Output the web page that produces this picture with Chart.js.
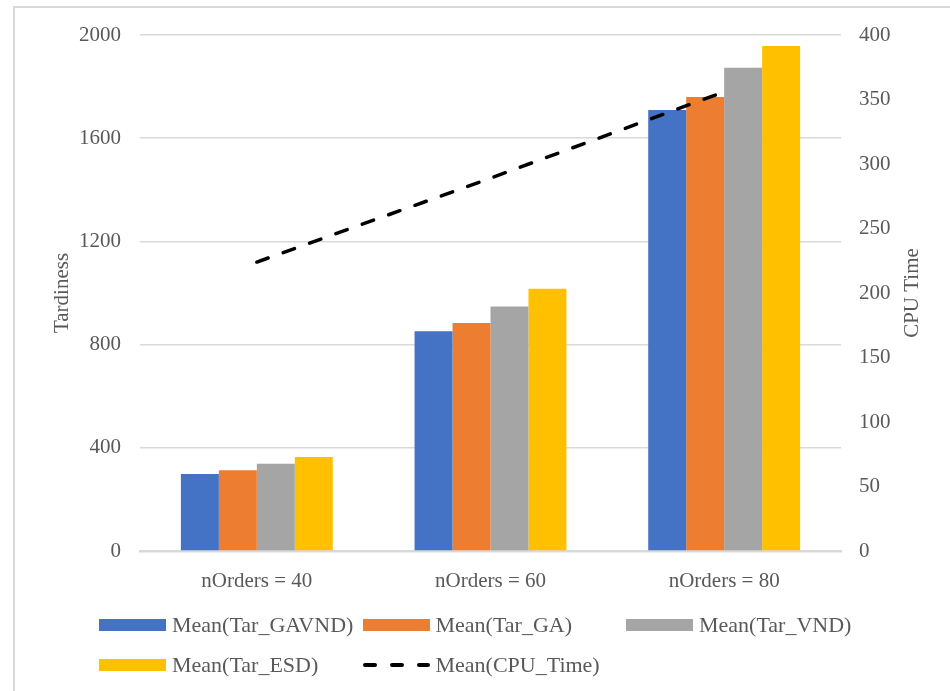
<!DOCTYPE html>
<html>
<head>
<meta charset="utf-8">
<script src="https://cdn.jsdelivr.net/npm/chart.js@4/dist/chart.umd.min.js"></script>
<style>
  body { margin: 0; background: #fff; }
  #wrap { position: relative; width: 950px; height: 691px; overflow: hidden; }
  #frame { position: absolute; left: 13px; top: 6px; width: 1000px; height: 800px;
           border-left: 2px solid #d9d9d9; border-top: 2px solid #d9d9d9; }
  canvas { position: absolute; left: 0; top: 0; }
  .item { position: absolute; height: 30px; display: flex; align-items: center;
          font-family: "Liberation Serif", "Times New Roman", serif; font-size: 22px; color: #595959; white-space: nowrap; }
  .swatch { width: 67px; height: 12px; margin-right: 6px; }
</style>
</head>
<body>
<div id="wrap">
  <div id="frame"></div>
  <canvas id="c" width="950" height="691"></canvas>
  <div id="legend"></div>
</div>
<script>
const categories = ['nOrders = 40', 'nOrders = 60', 'nOrders = 80'];
const tarGAVND = [298, 852, 1709];
const tarGA = [313, 884, 1760];
const tarVND = [338, 948, 1873];
const tarESD = [364, 1016, 1957];
const cpuTime = [224, 289, 356];

const seriesNames = ['Mean(Tar_GAVND)', 'Mean(Tar_GA)', 'Mean(Tar_VND)', 'Mean(Tar_ESD)', 'Mean(CPU_Time)'];
const colors = ['#4472C4', '#ED7D31', '#A5A5A5', '#FFC000', '#000000'];

const textColor = '#595959';
const serif = '"Liberation Serif", "Times New Roman", serif';
const font = { family: serif, size: 21 };

const barSet = (i, data) => ({
  type: 'bar', label: seriesNames[i], data, backgroundColor: colors[i],
  yAxisID: 'y', categoryPercentage: 0.65, barPercentage: 1, order: 1
});

const axisTitles = {
  id: 'axisTitles',
  afterDraw(chart) {
    const { ctx, chartArea } = chart;
    const cy = (chartArea.top + chartArea.bottom) / 2;
    ctx.save();
    ctx.fillStyle = textColor;
    ctx.font = '21px ' + serif;
    ctx.textAlign = 'center';
    ctx.textBaseline = 'middle';
    [['Tardiness', 62], ['CPU Time', 912]].forEach(([t, x]) => {
      ctx.save();
      ctx.translate(x, cy);
      ctx.rotate(-Math.PI / 2);
      ctx.fillText(t, 0, 0);
      ctx.restore();
    });
    ctx.restore();
  }
};

const chart = new Chart(document.getElementById('c'), {
  data: {
    labels: categories,
    datasets: [
      barSet(0, tarGAVND),
      barSet(1, tarGA),
      barSet(2, tarVND),
      barSet(3, tarESD),
      {
        type: 'line', label: seriesNames[4], data: cpuTime, yAxisID: 'y1',
        borderColor: '#000', borderWidth: 3.5, borderDash: [12, 16], borderCapStyle: 'round',
        pointRadius: 0, fill: false, order: 0
      }
    ]
  },
  options: {
    responsive: false,
    animation: false,
    devicePixelRatio: 1,
    layout: { padding: { top: 35, left: 0, right: 0, bottom: 0 } },
    plugins: { legend: { display: false }, tooltip: { enabled: false } },
    scales: {
      x: {
        grid: { display: false },
        border: { color: '#d9d9d9', width: 2.5 },
        ticks: { font, color: textColor, padding: 10 },
        afterFit: s => { s.height = 140; }
      },
      y: {
        position: 'left', min: 0, max: 2000,
        ticks: { stepSize: 400, font, color: textColor, padding: 19, callback: v => String(v) },
        grid: { color: '#d9d9d9', lineWidth: 1.5, drawTicks: false },
        border: { display: false },
        afterFit: s => { s.width = 140; }
      },
      y1: {
        position: 'right', min: 0, max: 400,
        ticks: { stepSize: 50, font, color: textColor, padding: 18, callback: v => String(v) },
        grid: { display: false, drawTicks: false },
        border: { display: false },
        afterFit: s => { s.width = 109; }
      }
    }
  },
  plugins: [axisTitles]
});

// legend laid out as a grid, like the original
const legend = document.getElementById('legend');
seriesNames.forEach((name, i) => {
  const row = Math.floor(i / 3), col = i % 3;
  const item = document.createElement('div');
  item.className = 'item';
  item.style.left = (99 + col * 263.5) + 'px';
  item.style.top = (610 + row * 40) + 'px';
  let sw;
  if (i < 4) {
    sw = document.createElement('div');
    sw.className = 'swatch';
    sw.style.background = colors[i];
  } else {
    sw = document.createElementNS('http://www.w3.org/2000/svg', 'svg');
    sw.setAttribute('width', '67');
    sw.setAttribute('height', '12');
    sw.style.marginRight = '6px';
    sw.innerHTML = '<line x1="2" y1="6" x2="65" y2="6" stroke="#000" stroke-width="4" stroke-linecap="round" stroke-dasharray="10 17"/>';
  }
  const tx = document.createElement('span');
  tx.textContent = name;
  item.appendChild(sw);
  item.appendChild(tx);
  legend.appendChild(item);
});
</script>
</body>
</html>
